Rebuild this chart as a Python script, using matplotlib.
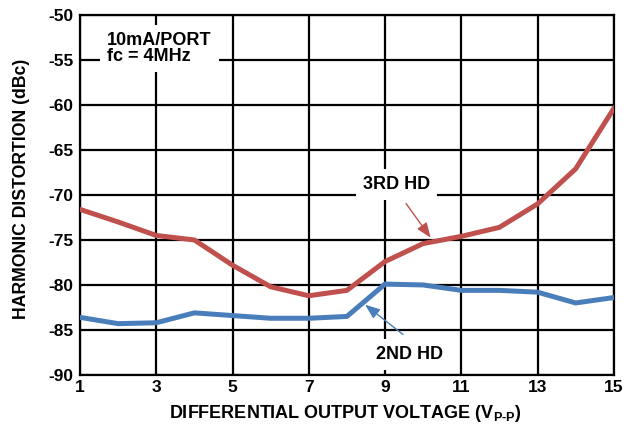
import matplotlib
matplotlib.use("Agg")
import matplotlib.pyplot as plt

plt.rcParams['font.family'] = ['Liberation Sans', 'DejaVu Sans']
plt.rcParams['axes.unicode_minus'] = False
plt.rcParams['mathtext.fontset'] = 'custom'
plt.rcParams['mathtext.rm'] = 'Liberation Sans:bold'
plt.rcParams['mathtext.bf'] = 'Liberation Sans:bold'

# data
voltage = [1, 2, 3, 4, 5, 6, 7, 8, 9, 10, 11, 12, 13, 14, 15]
hd3 = [-71.6, -73.0, -74.5, -75.0, -77.8, -80.2, -81.2, -80.6,
       -77.4, -75.4, -74.6, -73.6, -71.0, -67.1, -60.4]
hd2 = [-83.6, -84.3, -84.2, -83.1, -83.4, -83.7, -83.7, -83.5,
       -79.9, -80.0, -80.6, -80.6, -80.8, -82.0, -81.4]
x_ticks = [1, 3, 5, 7, 9, 11, 13, 15]
y_ticks = [-90, -85, -80, -75, -70, -65, -60, -55, -50]

red = '#C0504D'
blue = '#4A7EBB'

fig = plt.figure(figsize=(6.4, 4.29), dpi=100)
ax = fig.add_axes([0.125, 0.126, 0.834, 0.839])

ax.plot(voltage, hd3, color=red, linewidth=3.6, zorder=3)
ax.plot(voltage, hd2, color=blue, linewidth=3.6, zorder=3)

ax.set_xlim(1, 15)
ax.set_ylim(-90, -50)
ax.set_xticks(x_ticks)
ax.set_yticks(y_ticks)
ax.grid(True, color='black', linewidth=1.6)
ax.set_axisbelow(True)
for s in ax.spines.values():
    s.set_linewidth(1.6)
ax.tick_params(length=0, labelsize=12.5)
ax.tick_params(axis='y', pad=4.5)
ax.tick_params(axis='x', pad=3.5)
for lbl in ax.get_xticklabels() + ax.get_yticklabels():
    lbl.set_fontweight('bold')

ax.set_xlabel(r'DIFFERENTIAL OUTPUT VOLTAGE (V$_{\mathbf{P\text{-}P}}$)',
              fontsize=13, fontweight='bold')
ax.xaxis.set_label_coords(0.498, -0.078)
ax.set_ylabel('HARMONIC DISTORTION (dBc)', fontsize=12.7, fontweight='bold')
ax.yaxis.set_label_coords(-0.093, 0.517)

box = dict(facecolor='white', edgecolor='none', pad=5)
ax.text(1.71, -51.9, '10mA/PORT\nfc = 4MHz', fontsize=13, fontweight='bold',
        ha='left', va='top', linespacing=0.95, bbox=box, zorder=4)
ax.text(9.31, -68.8, '3RD HD', fontsize=13, fontweight='bold',
        ha='center', va='center', bbox=box, zorder=4)
ax.text(9.63, -87.7, '2ND HD', fontsize=13, fontweight='bold',
        ha='center', va='center', bbox=box, zorder=4)

ax.annotate('', xy=(10.24, -75.0), xytext=(9.51, -70.7),
            arrowprops=dict(arrowstyle='-|>,head_length=0.9,head_width=0.35',
                            color=red, linewidth=1), zorder=5)
ax.annotate('', xy=(8.42, -82.0), xytext=(9.53, -85.7),
            arrowprops=dict(arrowstyle='-|>,head_length=0.9,head_width=0.35',
                            color=blue, linewidth=1), zorder=5)

fig.savefig('out.png', dpi=100)
